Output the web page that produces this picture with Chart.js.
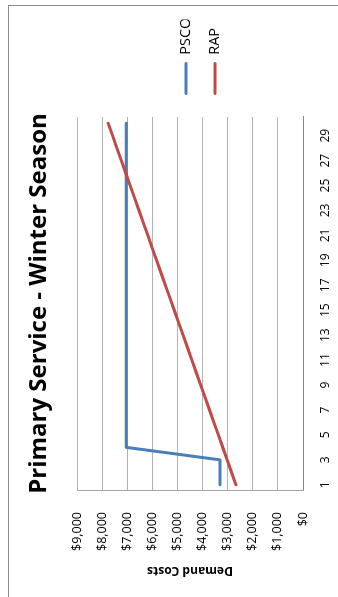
<!DOCTYPE html>
<html>
<head>
<meta charset="utf-8">
<script src="https://cdn.jsdelivr.net/npm/chart.js@4.4.1/dist/chart.umd.min.js"></script>
<style>
  html, body { margin: 0; padding: 0; background: #fff; overflow: hidden; width: 338px; height: 597px; }
  /* the chart is laid out landscape and turned a quarter turn to read upward */
  #frame { position: absolute; left: 0; top: 0; width: 597px; height: 338px;
           transform-origin: 0 0; transform: translate(0, 597px) rotate(-90deg); }
  #frame canvas { position: absolute; left: 0; top: 0; }
  #outline { position: absolute; left: -2px; top: 8px; width: 593px; height: 340px;
             border-top: 1px solid #8c8c8c; border-right: 1px solid #8c8c8c; }
</style>
</head>
<body>
<div id="frame">
  <div id="outline"></div>
  <canvas id="chart" width="597" height="338" style="width:597px;height:338px"></canvas>
</div>
<script>
// billing periods
const categories = ['1','2','3','4','5','6','7','8','9','10','11','12','13','14','15',
                    '16','17','18','19','20','21','22','23','24','25','26','27','28','29','30'];

// demand cost per period, in dollars
const psco = [3310, 3310, 3310, 7040, 7040, 7040, 7040, 7040, 7040, 7040,
              7040, 7040, 7040, 7040, 7040, 7040, 7040, 7040, 7040, 7040,
              7040, 7040, 7040, 7040, 7040, 7040, 7040, 7040, 7040, 7040];
const rap  = [2670, 2846, 3021, 3197, 3372, 3548, 3723, 3899, 4074, 4250,
              4425, 4601, 4776, 4952, 5127, 5303, 5478, 5654, 5829, 6005,
              6180, 6356, 6531, 6707, 6882, 7058, 7233, 7409, 7584, 7760];

const seriesNames = ['PSCO', 'RAP'];
const seriesColors = ['#4A7EBB', '#BE4B48'];

const valueMin = 0, valueMax = 9000, valueStep = 1000;

const titleText = 'Primary Service - Winter Season';
const valueAxisTitle = 'Demand Costs';

const legendFontSize = 14.5;
const legendSpacing = 29;            // distance between legend rows
const legendPad = legendSpacing - legendFontSize;

// pins the legend next to the plot and centres the title over its band
const boxPlacement = {
  id: 'boxPlacement',
  afterLayout(chart) {
    const lg = chart.legend;
    if (lg) {
      const w = lg.width, h = lg.height;
      lg.left = chart.chartArea.right + 22 - legendPad;
      lg.right = lg.left + w;
      lg.top = 186 - legendPad - legendFontSize / 2;
      lg.bottom = lg.top + h;
    }
    const t = chart.titleBlock;
    if (t) { t.left = 0; t.right = 587; t.width = 587; }
  }
};

function draw() {
  Chart.defaults.font.family = "'Open Sans', 'DejaVu Sans', sans-serif";
  Chart.defaults.color = '#000';

  new Chart(document.getElementById('chart'), {
    type: 'line',
    data: {
      labels: categories,
      datasets: [
        { label: seriesNames[0], data: psco, borderColor: seriesColors[0], backgroundColor: seriesColors[0],
          borderWidth: 3, pointRadius: 0, tension: 0, borderCapStyle: 'round', borderJoinStyle: 'round', order: 1 },
        { label: seriesNames[1], data: rap, borderColor: seriesColors[1], backgroundColor: seriesColors[1],
          borderWidth: 3, pointRadius: 0, tension: 0, borderCapStyle: 'round', borderJoinStyle: 'round', order: 0 }
      ]
    },
    options: {
      responsive: false,
      animation: false,
      devicePixelRatio: 1,
      layout: { padding: { left: 0, right: 27, top: 0, bottom: 0 } },
      plugins: {
        tooltip: { enabled: false },
        title: {
          display: true, text: titleText, color: '#000',
          font: { size: 24, weight: 'bold', lineHeight: 1.2 },
          padding: { top: 25, bottom: 23.2 }
        },
        legend: {
          position: 'right', align: 'start', maxWidth: 90,
          labels: {
            boxWidth: 33, boxHeight: 3, padding: legendPad, color: '#000',
            font: { size: legendFontSize }, useBorderRadius: true, borderRadius: 1.5,
            generateLabels(chart) {
              return chart.data.datasets.map((ds, i) => ({
                text: ds.label, fillStyle: ds.borderColor, strokeStyle: ds.borderColor,
                lineWidth: 0, fontColor: '#000', hidden: false, datasetIndex: i, borderRadius: 1.5
              }));
            }
          }
        }
      },
      scales: {
        x: {
          offset: true,
          grid: { display: false, drawTicks: false },
          border: { display: true, color: '#868686', width: 1 },
          ticks: {
            autoSkip: false, maxRotation: 0, minRotation: 0, padding: 15,
            color: '#000', font: { size: 12 },
            callback: (v, i) => (i % 2 === 0 ? categories[i] : '')
          },
          afterFit: s => { s.height = 35; }
        },
        y: {
          min: valueMin, max: valueMax,
          grid: { color: '#B2B2B2', drawTicks: false, lineWidth: 1 },
          border: { display: true, color: '#A6A6A6', width: 1 },
          ticks: {
            stepSize: valueStep, padding: 21, color: '#000', font: { size: 12.5 },
            callback: v => '$' + Number(v).toLocaleString('en-US')
          },
          title: {
            display: true, text: valueAxisTitle, color: '#000',
            font: { size: 12, weight: 'bold' }, padding: { top: 19, bottom: 0 }
          },
          afterFit: s => { s.width = 106; }
        }
      }
    },
    plugins: [boxPlacement]
  });
}

Promise.all([
  document.fonts.load("bold 24px 'Open Sans'"),
  document.fonts.load("12px 'Open Sans'")
]).catch(() => {}).then(draw);
</script>
</body>
</html>
